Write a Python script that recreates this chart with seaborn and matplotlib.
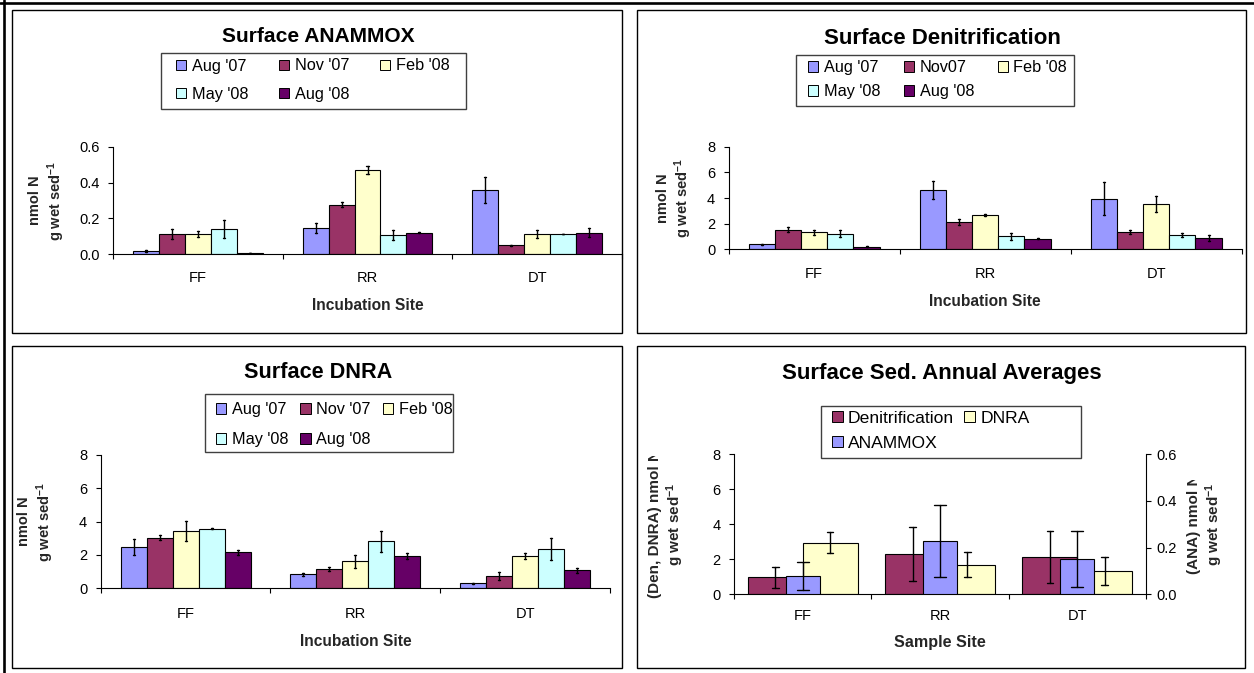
import numpy as np
import pandas as pd
import matplotlib
matplotlib.use("Agg")
import matplotlib.pyplot as plt
import matplotlib.patches as mpatches
from matplotlib.lines import Line2D
from matplotlib.ticker import FormatStrFormatter
from matplotlib.transforms import Bbox, TransformedBbox
import seaborn as sns

# ---------------- data ----------------
sites = ["FF", "RR", "DT"]
months_ana = ["Aug '07", "Nov '07", "Feb '08", "May '08", "Aug '08"]
months_den = ["Aug '07", "Nov07", "Feb '08", "May '08", "Aug '08"]
months_dnra = ["Aug '07", "Nov '07", "Feb '08", "May '08", "Aug '08"]
month_colors = ["#9999FF", "#993366", "#FFFFCC", "#CCFFFF", "#660066"]

# Surface ANAMMOX (nmol N g wet sed-1), per month: FF, RR, DT
ana_aug07 = [0.015, 0.148, 0.359]
ana_nov07 = [0.112, 0.275, 0.050]
ana_feb08 = [0.110, 0.471, 0.112]
ana_may08 = [0.140, 0.107, 0.112]
ana_aug08 = [0.006, 0.118, 0.120]
ana_aug07_err = [0.006, 0.028, 0.075]
ana_nov07_err = [0.028, 0.014, 0.003]
ana_feb08_err = [0.017, 0.023, 0.020]
ana_may08_err = [0.049, 0.028, 0.002]
ana_aug08_err = [0.002, 0.003, 0.026]

# Surface Denitrification
den_aug07 = [0.39, 4.65, 3.95]
den_nov07 = [1.52, 2.12, 1.32]
den_feb08 = [1.32, 2.71, 3.56]
den_may08 = [1.21, 1.00, 1.11]
den_aug08 = [0.21, 0.83, 0.90]
den_aug07_err = [0.04, 0.71, 1.26]
den_nov07_err = [0.19, 0.21, 0.15]
den_feb08_err = [0.18, 0.08, 0.63]
den_may08_err = [0.28, 0.28, 0.17]
den_aug08_err = [0.05, 0.03, 0.22]

# Surface DNRA
dnra_aug07 = [2.49, 0.84, 0.30]
dnra_nov07 = [3.03, 1.16, 0.76]
dnra_feb08 = [3.43, 1.62, 1.94]
dnra_may08 = [3.57, 2.81, 2.34]
dnra_aug08 = [2.16, 1.94, 1.08]
dnra_aug07_err = [0.47, 0.08, 0.03]
dnra_nov07_err = [0.16, 0.11, 0.24]
dnra_feb08_err = [0.59, 0.39, 0.18]
dnra_may08_err = [0.02, 0.61, 0.67]
dnra_aug08_err = [0.14, 0.17, 0.16]

# Annual averages
avg_processes = ["Denitrification", "DNRA"]
avg_den = [0.97, 2.29, 2.13]
avg_den_err = [0.60, 1.54, 1.46]
avg_dnra = [2.95, 1.70, 1.33]
avg_dnra_err = [0.60, 0.73, 0.81]
avg_ana = [0.079, 0.227, 0.150]
avg_ana_err = [0.061, 0.154, 0.120]
avg_colors = {"Denitrification": "#993366", "DNRA": "#FFFFCC", "ANAMMOX": "#9999FF"}


def long_df(groups, vals_list, errs_list):
    rows = []
    for g, vals, errs in zip(groups, vals_list, errs_list):
        for s, v, e in zip(sites, vals, errs):
            rows.append((s, g, v - e))
            rows.append((s, g, v + e))
    return pd.DataFrame(rows, columns=["site", "group", "value"])


def span(x):
    return (np.min(x), np.max(x))


# ---------------- style ----------------
sns.set_style("ticks")
plt.rcParams["font.family"] = ["Liberation Sans", "DejaVu Sans"]
plt.rcParams["mathtext.fontset"] = "custom"
plt.rcParams["mathtext.rm"] = "Liberation Sans"
plt.rcParams["mathtext.bf"] = "Liberation Sans:bold"
plt.rcParams["mathtext.it"] = "Liberation Sans:italic"
plt.rcParams["axes.edgecolor"] = "black"
plt.rcParams["text.color"] = "black"
plt.rcParams["xtick.color"] = "black"
plt.rcParams["ytick.color"] = "black"
plt.rcParams["axes.linewidth"] = 0.8

W, H = 1254, 673
fig = plt.figure(figsize=(W / 100, H / 100), dpi=100)
fig.patch.set_facecolor("white")


def add_axes_px(l, r, t, b):
    return fig.add_axes([l / W, 1 - b / H, (r - l) / W, (b - t) / H])


def fx(x):
    return x / W


def fy(y):
    return 1 - y / H


def frame_px(x0, y0, x1, y1, lw=1.0, ec="black"):
    fig.add_artist(mpatches.Rectangle((fx(x0), fy(y1)), (x1 - x0) / W, (y1 - y0) / H,
                                      transform=fig.transFigure, fill=False,
                                      edgecolor=ec, linewidth=lw))


def style_axes(ax, rect, ymax, yticks, fmt, tick_y, xlab, xlab_y, ylab, ylab_x,
               xlab_size=11.2, ylab_size=10.5):
    l, r, t, b = rect
    ax.set_xlim(-0.5, 2.5)
    ax.set_xticks([-0.5, 0.5, 1.5, 2.5])
    ax.set_xticklabels([])
    ax.set_xticks([0, 1, 2], minor=True)
    ax.set_xticklabels(sites, minor=True, fontsize=10.5)
    ax.tick_params(axis="x", which="major", length=3.6, width=0.8, direction="out")
    pad_x = (tick_y - b) * 0.72 - 10.5 * 0.42
    ax.tick_params(axis="x", which="minor", length=0, pad=pad_x)
    ax.set_ylim(0, ymax)
    ax.set_yticks(yticks)
    ax.yaxis.set_major_formatter(FormatStrFormatter(fmt))
    ax.tick_params(axis="y", which="major", length=3.6, width=0.8, pad=6.1, labelsize=10.5)
    ax.set_xlabel(xlab, fontsize=xlab_size, fontweight="bold")
    ax.xaxis.label.set_va("center")
    ax.xaxis.set_label_coords(0.5, -(xlab_y - b) / (b - t))
    ax.set_ylabel(ylab, fontsize=ylab_size, fontweight="bold", linespacing=1.2)
    ax.yaxis.label.set_va("center")
    ax.yaxis.label.set_ha("center")
    ax.yaxis.set_label_coords((ylab_x - l) / (r - l), 0.5)
    for s in ["top", "right"]:
        ax.spines[s].set_visible(False)
    ax.grid(False)


def month_legend(months, anchor, fontsize, colspacing, labelspacing):
    order = [0, 3, 1, 4, 2]
    handles = [mpatches.Patch(facecolor=month_colors[i], edgecolor="black", linewidth=0.7,
                              label=months[i]) for i in order]
    fig.legend(handles=handles, loc="upper left", bbox_to_anchor=(fx(anchor[0]), fy(anchor[1])),
               bbox_transform=fig.transFigure, ncol=3, frameon=False, fontsize=fontsize,
               borderpad=0, borderaxespad=0, handlelength=0.62, handleheight=0.62,
               handletextpad=0.35, columnspacing=colspacing, labelspacing=labelspacing)


def month_bars(ax, months, vals, errs, capsize=0.06):
    df = long_df(months, vals, errs)
    sns.barplot(data=df, x="site", y="value", hue="group", order=sites, hue_order=months,
                palette=dict(zip(months, month_colors)), saturation=1, width=0.765,
                errorbar=span, capsize=capsize,
                err_kws=dict(color="black", linewidth=1.0),
                edgecolor="black", linewidth=0.8, legend=False, ax=ax)


ylab_std = "nmol N\ng wet sed$^{\\mathbf{-1}}$"

# ---------------- outer frame and panel frames ----------------
fig.add_artist(Line2D([0, 1], [fy(2.5), fy(2.5)], transform=fig.transFigure, color="black", lw=1.9))
fig.add_artist(Line2D([fx(3.8), fx(3.8)], [0, 1], transform=fig.transFigure, color="black", lw=1.9))
frame_px(12.3, 10, 622, 332.7)
frame_px(636.7, 10, 1245.7, 332.7)
frame_px(12.3, 346, 621.7, 668.3)
frame_px(636.7, 346, 1245.3, 668.3)

# ---------------- Surface ANAMMOX ----------------
rect = (113, 622, 147, 254)
ax = add_axes_px(*rect)
month_bars(ax, months_ana,
           [ana_aug07, ana_nov07, ana_feb08, ana_may08, ana_aug08],
           [ana_aug07_err, ana_nov07_err, ana_feb08_err, ana_may08_err, ana_aug08_err])
style_axes(ax, rect, 0.6, [0.0, 0.2, 0.4, 0.6], "%.1f", 277, "Incubation Site", 305,
           ylab_std, 47.5)
fig.text(fx(318), fy(37), "Surface ANAMMOX", ha="center", va="center", fontsize=15.1,
         fontweight="bold")
frame_px(161, 53, 466, 109, ec="#404040")
month_legend(months_ana, (176, 58.5), 11.7, 1.9, 0.81)

# ---------------- Surface Denitrification ----------------
rect = (728.7, 1241.7, 146.7, 249.3)
ax = add_axes_px(*rect)
month_bars(ax, months_den,
           [den_aug07, den_nov07, den_feb08, den_may08, den_aug08],
           [den_aug07_err, den_nov07_err, den_feb08_err, den_may08_err, den_aug08_err])
style_axes(ax, rect, 8, [0, 2, 4, 6, 8], "%d", 272.7, "Incubation Site", 301.7,
           ylab_std, 675)
fig.text(fx(942.5), fy(38), "Surface Denitrification", ha="center", va="center",
         fontsize=16, fontweight="bold")
frame_px(796, 55, 1074, 106, ec="#404040")
month_legend(months_den, (808, 60), 11.7, 1.45, 0.57)

# ---------------- Surface DNRA ----------------
rect = (100.7, 610, 454.7, 588.3)
ax = add_axes_px(*rect)
month_bars(ax, months_dnra,
           [dnra_aug07, dnra_nov07, dnra_feb08, dnra_may08, dnra_aug08],
           [dnra_aug07_err, dnra_nov07_err, dnra_feb08_err, dnra_may08_err, dnra_aug08_err])
style_axes(ax, rect, 8, [0, 2, 4, 6, 8], "%d", 613, "Incubation Site", 641,
           ylab_std, 36.7)
fig.text(fx(318), fy(373), "Surface DNRA", ha="center", va="center", fontsize=15.6,
         fontweight="bold")
frame_px(205, 394, 453, 452, ec="#404040")
month_legend(months_dnra, (216, 402), 11.7, 0.75, 0.94)

# ---------------- Surface Sed. Annual Averages ----------------
rect = (734.3, 1145.7, 454.3, 594.3)
ax = add_axes_px(*rect)
df_avg = long_df(avg_processes, [avg_den, avg_dnra], [avg_den_err, avg_dnra_err])
sns.barplot(data=df_avg, x="site", y="value", hue="group", order=sites,
            hue_order=avg_processes, palette=avg_colors, saturation=1, width=0.8,
            errorbar=span, capsize=0.09, err_kws=dict(color="black", linewidth=1.0),
            edgecolor="black", linewidth=0.8, legend=False, ax=ax)
ax2 = ax.twinx()
df_ana = long_df(["ANAMMOX"], [avg_ana], [avg_ana_err])
sns.barplot(data=df_ana, x="site", y="value", order=sites, color=avg_colors["ANAMMOX"],
            saturation=1, width=0.25, errorbar=span, capsize=0.09,
            err_kws=dict(color="black", linewidth=1.0),
            edgecolor="black", linewidth=0.8, ax=ax2)
style_axes(ax, rect, 8, [0, 2, 4, 6, 8], "%d", 615, "Sample Site", 642,
           "(Den, DNRA) nmol N\ng wet sed$^{\\mathbf{-1}}$", 667, xlab_size=11.6, ylab_size=11)
ax2.set_xlim(-0.5, 2.5)
ax2.set_ylim(0, 0.6)
ax2.set_yticks([0.0, 0.2, 0.4, 0.6])
ax2.yaxis.set_major_formatter(FormatStrFormatter("%.1f"))
ax2.tick_params(axis="y", which="major", length=3.6, width=0.8, pad=4.3, labelsize=10.5)
for s in ["top", "left", "bottom"]:
    ax2.spines[s].set_visible(False)
ax2.spines["right"].set_visible(True)
ax2.set_ylabel("(ANA) nmol N\ng wet sed$^{\\mathbf{-1}}$", fontsize=11, fontweight="bold",
               linespacing=1.2)
ax2.yaxis.label.set_va("center")
ax2.yaxis.label.set_ha("center")
l, r, t, b = rect
ax2.yaxis.set_label_coords((1206 - l) / (r - l), 0.5)
ax2.grid(False)

# the axis titles are cut off at the top, as in the original
ax.yaxis.label.set_clip_box(TransformedBbox(Bbox([[0, 0], [1, fy(456)]]), fig.transFigure))
ax.yaxis.label.set_clip_on(True)
ax2.yaxis.label.set_clip_box(TransformedBbox(Bbox([[0, 0], [1, fy(480)]]), fig.transFigure))
ax2.yaxis.label.set_clip_on(True)

fig.text(fx(942), fy(373), "Surface Sed. Annual Averages", ha="center", va="center",
         fontsize=16, fontweight="bold")
frame_px(820.6, 405.7, 1081, 458, ec="#404040")
avg_handles = [mpatches.Patch(facecolor=avg_colors[k], edgecolor="black", linewidth=0.7, label=k)
               for k in ["Denitrification", "ANAMMOX", "DNRA"]]
fig.legend(handles=avg_handles, loc="upper left", bbox_to_anchor=(fx(832), fy(411)),
           bbox_transform=fig.transFigure, ncol=2, frameon=False, fontsize=12.6,
           borderpad=0, borderaxespad=0, handlelength=0.6, handleheight=0.6,
           handletextpad=0.3, columnspacing=0.6, labelspacing=0.56)

fig.savefig("out.png", dpi=100, facecolor="white")
